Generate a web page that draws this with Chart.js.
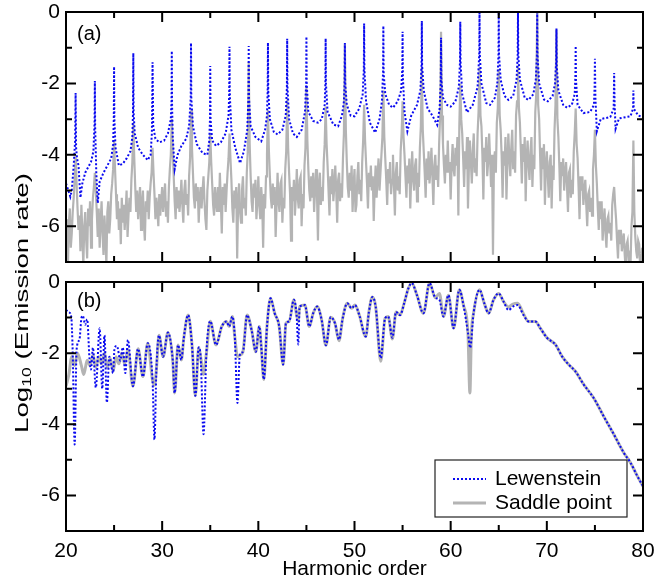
<!DOCTYPE html>
<html>
<head>
<meta charset="utf-8">
<script src="https://cdn.jsdelivr.net/npm/chart.js@4.4.1/dist/chart.umd.min.js"></script>
<style>
html,body{margin:0;padding:0;background:#fff;}
#wrap{position:relative;width:654px;height:583px;overflow:hidden;font-family:'Liberation Sans',Arial,sans-serif;}
#chartA{position:absolute;left:0;top:0;}
#chartB{position:absolute;left:0;top:270px;}
#ytitle{position:absolute;left:22px;top:303px;transform:translate(-50%,-50%) rotate(-90deg) scaleX(1.46);white-space:nowrap;font-size:19px;color:#000;line-height:24px;}
#ytitle sub{font-size:12px;vertical-align:-3px;line-height:0;}
</style>
</head>
<body>
<div id="wrap">
  <canvas id="chartA" width="654" height="270"></canvas>
  <canvas id="chartB" width="654" height="313"></canvas>
  <div id="ytitle">Log<sub>10</sub> (Emission rate)</div>
</div>
<script>
// tick labels
const xLabels = [20, 30, 40, 50, 60, 70, 80];
const yLabels = [0, -2, -4, -6];

// (a) Lewenstein, harmonic order / log10 rate
const lewAx = [
  20.0,20.25,20.45,20.6,20.8,20.95,21.0,21.05,21.15,21.3,
  21.5,21.7,22.0,22.3,22.6,22.85,22.97,23.0,23.03,23.15,
  23.3,23.5,23.9,24.3,24.7,24.9,24.97,25.0,25.03,25.15,
  25.5,25.9,26.3,26.7,26.9,26.97,27.0,27.03,27.15,27.5,
  28.0,28.5,28.8,28.93,29.0,29.07,29.3,29.7,30.2,30.6,
  30.9,30.97,31.0,31.03,31.1,31.3,31.6,32.0,32.5,32.8,
  32.97,33.0,33.03,33.2,33.6,34.2,34.7,34.9,34.97,35.0,
  35.03,35.2,35.6,36.1,36.6,36.9,36.97,37.0,37.03,37.2,
  37.6,38.1,38.5,38.85,38.97,39.0,39.03,39.2,39.7,40.3,
  40.7,40.9,40.97,41.0,41.03,41.2,41.6,42.0,42.5,42.85,
  42.97,43.0,43.03,43.2,43.6,44.0,44.5,44.85,44.97,45.0,
  45.03,45.2,45.7,46.2,46.6,46.9,46.97,47.0,47.03,47.2,
  47.8,48.3,48.7,48.9,48.97,49.0,49.03,49.2,49.6,50.0,
  50.5,50.85,50.97,51.0,51.03,51.2,51.6,52.15,52.6,52.85,
  52.97,53.0,53.03,53.2,53.6,54.0,54.5,54.85,54.97,55.0,
  55.03,55.2,55.5,55.9,56.5,56.85,56.97,57.0,57.03,57.2,
  57.6,58.1,58.6,58.85,58.97,59.0,59.03,59.2,59.6,60.0,
  60.5,60.85,60.97,61.0,61.03,61.2,61.7,62.3,62.8,62.97,
  63.0,63.03,63.2,63.7,64.1,64.6,64.85,64.97,65.0,65.03,
  65.2,65.6,66.0,66.5,66.85,66.97,67.0,67.03,67.2,67.7,
  68.1,68.6,68.85,68.97,69.0,69.03,69.2,69.7,70.1,70.6,
  70.85,70.97,71.0,71.03,71.2,71.7,72.1,72.6,72.9,72.97,
  73.0,73.03,73.2,73.8,74.5,74.9,74.97,75.0,75.05,75.2,
  75.6,76.6,76.95,77.0,77.05,77.15,77.5,78.7,78.97,79.0,
  79.03,79.5,80.0
];
const lewAy = [
  -4.8,-5.0,-5.17,-5.0,-4.3,-3.6,-2.27,-3.8,-4.1,-4.3,
  -5.2,-4.8,-4.5,-4.35,-4.2,-3.9,-3.1,-1.93,-3.2,-4.5,
  -5.35,-4.75,-4.5,-4.3,-4.1,-3.7,-3.0,-1.53,-3.0,-3.8,
  -4.3,-4.25,-4.1,-3.9,-3.5,-2.8,-1.15,-2.8,-3.4,-3.8,
  -4.0,-4.15,-4.0,-3.4,-1.41,-3.2,-3.55,-3.65,-3.6,-3.4,
  -3.0,-2.5,-1.09,-2.6,-3.5,-4.4,-4.0,-3.75,-3.55,-3.2,
  -2.4,-0.87,-2.4,-3.2,-3.7,-3.95,-4.0,-3.6,-3.0,-1.51,
  -3.0,-3.6,-3.75,-3.65,-3.4,-2.9,-2.3,-0.97,-2.3,-3.3,
  -3.8,-4.23,-3.9,-3.3,-2.4,-0.95,-2.4,-3.2,-3.5,-3.62,
  -3.3,-2.9,-2.2,-0.86,-2.2,-3.0,-3.35,-3.43,-3.3,-2.9,
  -2.1,-0.75,-2.1,-3.0,-3.4,-3.5,-3.3,-2.8,-2.0,-0.69,
  -2.0,-2.8,-3.05,-3.1,-3.0,-2.6,-2.0,-0.74,-2.0,-2.8,
  -3.15,-3.2,-2.9,-2.5,-2.0,-0.87,-2.0,-2.6,-2.9,-2.92,
  -2.7,-2.3,-1.6,-0.32,-1.6,-2.5,-3.1,-3.38,-3.0,-2.5,
  -1.7,-0.39,-1.7,-2.3,-2.6,-2.68,-2.5,-2.2,-1.6,-0.55,
  -1.8,-2.8,-3.34,-2.9,-2.6,-2.2,-1.5,-0.25,-1.5,-2.2,
  -2.7,-2.9,-3.16,-2.7,-2.0,-0.72,-1.9,-2.4,-2.6,-2.65,
  -2.5,-2.1,-1.4,-0.27,-1.4,-2.3,-2.81,-2.6,-2.1,-1.2,
  -0.02,-1.2,-2.0,-2.55,-2.6,-2.4,-2.0,-1.2,0,-1.2,
  -1.9,-2.35,-2.46,-2.35,-1.9,-1.2,0,-1.2,-1.9,-2.4,
  -2.46,-2.3,-1.9,-1.2,0,-1.2,-2.0,-2.45,-2.5,-2.35,
  -2.0,-1.4,-0.46,-1.5,-2.2,-2.6,-2.68,-2.6,-2.3,-1.8,
  -0.95,-1.9,-2.6,-2.83,-2.8,-2.6,-2.1,-1.31,-2.4,-3.34,
  -3.0,-2.94,-2.7,-1.71,-2.6,-3.27,-2.98,-2.92,-2.7,-2.2,
  -2.7,-2.9,-2.94
];

// (a) saddle point, sampled every 0.1 harmonic from 20 to 80 (one row per harmonic)
const sadAStart = 20, sadAStep = 0.1;
const sadAy = [
  -5.8,-6.5,-7.1,-5.9,-5.5,-6.6,-6.2,-5.6,-5.2,-4.7,
  -4.05,-4.8,-5.5,-6.1,-5.7,-6.7,-5.4,-6.2,-7.1,-6.0,
  -5.6,-6.4,-6.9,-5.5,-6.0,-5.3,-6.6,-5.8,-5.2,-4.9,
  -4.5,-5.0,-5.6,-6.3,-5.5,-6.6,-5.9,-5.3,-6.2,-6.8,
  -5.7,-6.3,-7.1,-5.6,-5.3,-6.2,-5.8,-5.1,-4.8,-4.4,
  -3.6,-4.4,-5.1,-5.8,-5.3,-6.1,-5.5,-6.5,-5.2,-5.9,
  -5.4,-6.1,-5.6,-5.0,-6.3,-5.7,-5.2,-5.6,-4.7,-4.2,
  -3.1,-4.1,-4.9,-5.6,-5.0,-5.8,-5.3,-4.9,-6.1,-5.4,
  -5.0,-5.9,-6.4,-5.3,-5.6,-5.0,-5.8,-5.2,-4.8,-4.5,
  -3.8,-4.5,-5.1,-5.8,-5.2,-5.5,-6.0,-5.1,-5.7,-5.3,
  -4.9,-5.6,-5.2,-4.8,-5.7,-5.3,-5.9,-4.9,-4.4,-4.0,
  -3.0,-3.9,-4.6,-5.3,-5.8,-4.9,-5.5,-5.0,-5.6,-5.2,
  -4.7,-5.4,-5.9,-5.0,-4.7,-5.4,-5.1,-5.7,-4.6,-4.1,
  -2.75,-3.8,-4.5,-5.2,-5.5,-4.8,-5.3,-4.9,-5.9,-5.2,
  -4.9,-5.5,-5.0,-4.6,-5.3,-5.8,-6.1,-5.0,-4.6,-4.2,
  -3.4,-4.2,-4.8,-5.4,-5.7,-4.9,-5.3,-5.6,-4.9,-5.6,
  -4.5,-5.3,-6.2,-4.9,-5.4,-4.8,-5.6,-5.0,-4.5,-4.1,
  -3.4,-4.1,-4.7,-5.5,-5.9,-5.0,-5.5,-4.9,-6.9,-5.3,
  -4.8,-5.6,-5.9,-5.0,-4.6,-5.5,-5.2,-5.7,-4.5,-3.9,
  -1.4,-3.7,-4.6,-5.3,-5.6,-4.8,-5.2,-4.7,-5.8,-5.3,
  -4.6,-5.4,-5.8,-4.9,-5.3,-6.6,-5.1,-5.5,-4.6,-4.0,
  -2.75,-3.9,-4.6,-5.2,-5.5,-4.8,-5.4,-4.9,-6.3,-5.4,
  -4.5,-5.3,-5.6,-4.8,-4.7,-5.9,-5.2,-5.5,-4.4,-3.9,
  -2.45,-3.8,-4.5,-5.1,-6.4,-4.9,-5.3,-4.7,-5.7,-5.2,
  -4.4,-5.2,-5.5,-4.7,-4.6,-6.0,-5.1,-5.5,-4.3,-3.8,
  -2.1,-3.6,-4.4,-5.0,-5.3,-4.6,-5.2,-4.5,-5.6,-5.0,
  -4.4,-5.1,-6.4,-4.8,-4.5,-5.4,-4.9,-5.3,-4.2,-3.7,
  -2.65,-3.7,-4.3,-5.0,-5.7,-4.6,-5.1,-4.4,-5.3,-4.9,
  -4.3,-5.0,-5.9,-4.7,-4.5,-5.3,-4.8,-5.2,-4.1,-3.4,
  -0.9,-3.3,-4.2,-4.9,-5.2,-4.5,-5.0,-4.3,-5.6,-4.9,
  -4.4,-5.6,-5.4,-4.6,-4.2,-5.1,-4.7,-5.3,-4.2,-3.6,
  -2.6,-3.6,-4.2,-4.8,-5.5,-4.5,-4.9,-4.3,-5.0,-4.6,
  -5.85,-4.9,-4.3,-5.2,-4.6,-4.1,-5.0,-4.5,-4.0,-3.5,
  -2.2,-3.5,-4.1,-4.7,-5.4,-4.4,-4.8,-4.2,-5.1,-4.7,
  -4.0,-4.8,-5.7,-4.5,-4.2,-5.0,-4.6,-5.1,-3.9,-3.4,
  -2.5,-3.5,-4.0,-4.6,-5.2,-4.3,-4.8,-4.1,-5.5,-4.6,
  -3.9,-4.7,-5.0,-4.3,-4.1,-5.3,-4.5,-4.9,-3.8,-3.2,
  -1.55,-3.3,-3.9,-4.5,-5.2,-4.1,-4.7,-3.9,-4.8,-4.4,
  -3.8,-4.6,-5.4,-4.3,-4.0,-4.7,-4.3,-4.9,-3.7,-2.9,
  -0.55,-2.9,-3.7,-4.3,-4.8,-4.0,-4.5,-3.6,-4.5,-4.2,
  -5.25,-4.3,-3.7,-4.4,-4.6,-3.8,-4.3,-3.5,-5.7,-3.2,
  -2.0,-3.0,-3.4,-4.1,-4.9,-3.9,-4.4,-3.5,-5.5,-4.3,
  -3.6,-4.2,-4.8,-3.9,-3.4,-4.5,-4.1,-4.6,-3.4,-2.8,
  -1.55,-2.9,-3.2,-4.0,-5.25,-3.8,-4.2,-3.5,-4.6,-4.2,
  -3.4,-4.1,-4.9,-4.0,-6.8,-4.2,-3.9,-4.5,-3.1,-2.7,
  -1.6,-2.9,-3.3,-4.0,-5.2,-3.9,-4.3,-3.5,-5.25,-4.2,
  -3.4,-4.1,-4.6,-3.8,-3.3,-4.4,-3.9,-4.5,-2.9,-2.5,
  -1.5,-2.7,-3.1,-3.9,-4.8,-3.7,-4.2,-3.5,-5.3,-4.1,
  -3.6,-4.3,-4.7,-3.9,-3.5,-4.9,-4.0,-4.4,-2.8,-2.3,
  0.0,-2.6,-3.0,-4.0,-5.0,-3.8,-4.4,-3.7,-5.4,-4.3,
  -3.9,-4.6,-5.2,-4.2,-4.0,-5.5,-4.3,-4.7,-3.3,-2.6,
  -0.5,-3.0,-3.5,-4.3,-5.3,-4.2,-4.6,-4.1,-5.0,-4.5,
  -4.2,-4.9,-5.6,-4.5,-4.4,-5.2,-4.7,-5.1,-3.9,-3.4,
  -2.7,-3.7,-4.1,-4.9,-5.8,-4.6,-5.0,-4.6,-5.4,-5.0,
  -4.7,-5.4,-6.0,-5.1,-5.0,-5.6,-5.2,-5.7,-4.4,-4.0,
  -3.3,-4.3,-4.8,-5.5,-6.1,-5.3,-5.8,-5.3,-6.4,-5.9,
  -5.5,-6.2,-6.6,-5.8,-5.7,-6.2,-5.9,-6.4,-5.4,-5.1,
  -4.9,-5.4,-5.8,-6.4,-6.9,-6.1,-6.5,-6.1,-6.7,-6.4,
  -6.2,-6.8,-7.2,-6.5,-6.4,-6.9,-6.8,-7.1,-6.0,-5.6,
  -3.6,-5.6,-6.3,-6.7,-6.9,-6.4,-6.5,-7.1,-7.2,-6.6,
  -6.8
];

// (b) Lewenstein
const lewBx = [
  20.0,20.3,20.54,20.7,20.9,21.1,21.4,21.6,21.75,22.0,
  22.2,22.45,22.6,22.8,23.1,23.5,23.77,24.0,24.25,24.5,
  24.9,25.05,25.3,25.65,25.9,26.17,26.44,26.96,27.5,28.0,
  28.5,29.0,29.2,29.4,29.67,30.1,30.6,31.1,31.3,31.65,
  32.0,32.24,32.7,33.1,33.45,33.8,34.0,34.3,34.6,35.0,
  35.6,36.2,36.7,36.96,37.3,37.55,37.83,38.07,38.4,38.83,
  39.3,39.74,40.1,40.3,40.57,40.9,41.27,41.7,42.17,42.58,
  42.87,43.2,43.7,43.98,44.15,44.3,44.84,45.3,45.7,46.12,
  46.58,47.03,47.52,47.97,48.39,48.77,49.25,49.7,50.05,50.5,
  51.17,51.5,51.86,52.2,52.73,53.18,53.5,53.94,54.32,54.74,
  55.16,55.6,55.96,56.48,57.17,57.8,58.4,58.83,59.25,59.77,
  60.3,60.9,61.33,61.8,62.03,62.38,63.0,63.5,63.94,64.46,
  64.98,65.5,66.02,66.48,66.96,67.58,68.1,68.8,69.32,70.02,
  70.9,71.58,72.27,72.97,73.83,74.87,75.9,76.96,78.0,78.7,
  79.4,80.0
];
const lewBy = [
  -0.78,-0.85,-0.97,-2.0,-4.57,-1.9,-1.62,-1.02,-0.95,-1.2,
  -1.05,-2.18,-2.46,-1.85,-2.97,-1.3,-3.0,-1.5,-3.39,-2.1,
  -2.56,-1.85,-1.8,-2.21,-1.84,-2.56,-1.63,-2.93,-1.88,-2.66,
  -1.72,-2.77,-4.43,-2.46,-1.5,-2.1,-1.42,-2.2,-3.12,-1.77,
  -2.19,-1.6,-0.93,-1.77,-3.2,-1.84,-2.1,-4.28,-2.0,-1.1,
  -1.77,-1.25,-1.11,-1.25,-0.97,-1.53,-3.4,-2.06,-1.96,-0.93,
  -1.35,-1.96,-1.25,-1.8,-2.74,-1.25,-0.46,-0.88,-1.25,-2.32,
  -1.16,-1.11,-0.5,-0.93,-1.76,-0.69,-0.65,-1.25,-0.88,-0.69,
  -1.06,-1.78,-0.99,-1.16,-1.62,-1.02,-0.6,-0.74,-0.65,-0.93,
  -1.53,-0.84,-0.42,-0.69,-2.14,-1.02,-0.97,-1.57,-0.84,-0.93,
  -0.6,-0.18,-0.03,-0.36,-0.88,-0.03,-0.44,-0.5,-0.97,-0.37,
  -1.3,-0.22,-0.65,-1.43,-1.85,-0.88,-0.22,-0.6,-0.88,-0.5,
  -0.32,-0.55,-0.79,-0.69,-0.65,-0.93,-1.11,-1.11,-1.3,-1.57,
  -1.76,-2.09,-2.32,-2.51,-2.88,-3.26,-3.77,-4.28,-4.8,-5.08,
  -5.45,-5.74
];

// (b) saddle point
const sadBx = [
  20.0,20.3,20.6,20.9,21.2,21.6,21.85,22.2,22.5,22.8,
  23.1,23.4,23.7,24.0,24.3,24.6,24.9,25.2,25.5,25.8,
  26.1,26.44,26.96,27.5,28.0,28.5,29.0,29.2,29.4,29.67,
  30.1,30.6,31.1,31.3,31.65,32.0,32.24,32.7,33.1,33.45,
  33.8,34.0,34.3,34.6,35.0,35.6,36.2,36.7,36.96,37.3,
  37.55,37.83,38.07,38.4,38.83,39.3,39.74,40.1,40.3,40.57,
  40.9,41.27,41.7,42.17,42.58,42.87,43.2,43.7,43.98,44.15,
  44.3,44.84,45.3,45.7,46.12,46.58,47.03,47.52,47.97,48.39,
  48.77,49.25,49.7,50.05,50.5,51.17,51.5,51.86,52.2,52.73,
  53.18,53.5,53.94,54.32,54.74,55.16,55.6,55.96,56.48,57.17,
  57.8,58.4,58.83,59.25,59.77,60.3,60.9,61.33,61.8,62.0,
  62.15,62.38,63.0,63.5,63.94,64.46,64.98,65.5,66.02,66.48,
  66.96,67.58,68.1,68.8,69.32,70.02,70.9,71.58,72.27,72.97,
  73.83,74.87,75.9,76.96,78.0,78.7,79.4,80.0
];
const sadBy = [
  -2.93,-2.6,-2.1,-2.35,-2.0,-2.35,-2.6,-2.2,-2.35,-2.05,
  -2.4,-2.1,-2.3,-2.0,-2.4,-2.15,-2.5,-2.1,-2.3,-2.0,
  -2.3,-1.9,-2.93,-1.88,-2.66,-1.72,-2.77,-2.9,-2.46,-1.5,
  -2.1,-1.42,-2.2,-3.12,-1.77,-2.19,-1.6,-0.93,-1.77,-3.2,
  -1.84,-2.1,-2.6,-2.0,-1.1,-1.77,-1.25,-1.11,-1.25,-0.97,
  -1.53,-2.1,-2.06,-1.96,-0.93,-1.35,-1.96,-1.25,-1.8,-2.74,
  -1.25,-0.46,-0.88,-1.25,-2.32,-1.16,-1.11,-0.5,-0.93,-1.1,
  -0.69,-0.65,-1.25,-0.88,-0.69,-1.06,-1.78,-0.99,-1.16,-1.65,
  -1.02,-0.6,-0.74,-0.65,-0.93,-1.53,-0.84,-0.42,-0.69,-2.23,
  -1.02,-0.97,-1.6,-0.84,-0.93,-0.6,-0.18,-0.03,-0.36,-0.88,
  -0.03,-0.44,-0.32,-0.97,-0.37,-1.3,-0.22,-0.65,-1.45,-3.12,
  -1.5,-0.88,-0.22,-0.6,-0.88,-0.5,-0.32,-0.55,-0.7,-0.62,
  -0.6,-0.9,-1.11,-1.11,-1.3,-1.57,-1.76,-2.09,-2.32,-2.51,
  -2.88,-3.26,-3.77,-4.28,-4.8,-5.08,-5.45,-5.74
];

const FONT = "'Liberation Sans', Arial, sans-serif";
Chart.defaults.font.family = FONT;
Chart.defaults.color = '#000';

const BLUE = '#0a0af0';
const GRAY = '#b4b4b4';

const pts = (xs, ys) => ys.map((y, i) => ({x: xs[i], y}));
const sadA = sadAy.map((y, i) => ({x: sadAStart + i * sadAStep, y}));

// frame, inward ticks, panel label, legend
const frame = {
  id: 'frame',
  afterDatasetsDraw(chart, args, o) {
    const {ctx, chartArea: a, scales: {x, y}} = chart;
    ctx.save();
    ctx.strokeStyle = '#000';
    ctx.lineWidth = 2;
    ctx.beginPath();
    for (let v = x.min; v <= x.max; v += 5) {
      const p = x.getPixelForValue(v);
      const len = v % 10 === 0 ? 10 : 6;
      ctx.moveTo(p, a.bottom); ctx.lineTo(p, a.bottom - len);
      ctx.moveTo(p, a.top); ctx.lineTo(p, a.top + len);
    }
    for (let v = y.min; v <= y.max; v += 1) {
      const p = y.getPixelForValue(v);
      const len = v % 2 === 0 ? 10 : 6;
      ctx.moveTo(a.left, p); ctx.lineTo(a.left + len, p);
      ctx.moveTo(a.right, p); ctx.lineTo(a.right - len, p);
    }
    ctx.stroke();
    ctx.strokeRect(a.left, a.top, a.width, a.height);

    ctx.fillStyle = '#000';
    ctx.font = '20px ' + FONT;
    ctx.textBaseline = 'alphabetic';
    ctx.fillText(o.label, a.left + 11, a.top + o.labelDy);

    if (o.legend) {
      const ds = chart.data.datasets;
      const lx = a.right - 208, ly = a.bottom - 71;
      ctx.fillStyle = '#fff';
      ctx.fillRect(lx, ly, 192, 57);
      ctx.lineWidth = 1.2;
      ctx.strokeStyle = '#222';
      ctx.strokeRect(lx, ly, 192, 57);
      ds.forEach((d, i) => {
        const yy = ly + 19 + i * 24;
        ctx.beginPath();
        ctx.strokeStyle = d.borderColor;
        ctx.lineWidth = d.borderWidth;
        ctx.setLineDash(d.borderDash || []);
        ctx.moveTo(lx + 18, yy); ctx.lineTo(lx + 51, yy);
        ctx.stroke();
        ctx.setLineDash([]);
        ctx.fillStyle = '#000';
        ctx.font = '21px ' + FONT;
        ctx.fillText(d.label, lx + 60, yy + 6);
      });
    }
    ctx.restore();
  }
};

function makeChart(id, lew, sad, showX, label, labelDy, smooth) {
  const xHeight = showX ? 52 : 8;
  return new Chart(document.getElementById(id), {
    type: 'line',
    data: {
      datasets: [
        {label: 'Lewenstein', data: lew, borderColor: BLUE, borderWidth: 2, borderDash: [2, 2],
         pointRadius: 0, tension: 0, cubicInterpolationMode: smooth ? 'monotone' : 'default'},
        {label: 'Saddle point', data: sad, borderColor: GRAY, borderWidth: smooth ? 3 : 2.2,
         pointRadius: 0, tension: 0, cubicInterpolationMode: smooth ? 'monotone' : 'default'}
      ]
    },
    options: {
      responsive: false,
      animation: false,
      events: [],
      layout: {padding: {top: 12, right: 11, left: 0, bottom: 0}},
      plugins: {
        legend: {display: false},
        tooltip: {enabled: false},
        frame: {label: label, labelDy: labelDy, legend: showX}
      },
      scales: {
        x: {
          type: 'linear', min: 20, max: 80,
          grid: {display: false, drawTicks: false},
          border: {display: false},
          ticks: {display: showX, stepSize: 5, autoSkip: false, maxRotation: 0, padding: 8,
                  font: {size: 21}, callback: v => xLabels.includes(v) ? String(v) : ''},
          title: {display: showX, text: 'Harmonic order', font: {size: 21}, padding: {top: 0, bottom: 1}},
          afterFit: s => { s.height = xHeight; s.paddingLeft = 0; s.paddingRight = 0; }
        },
        y: {
          min: -7, max: 0,
          grid: {display: false, drawTicks: false},
          border: {display: false},
          ticks: {stepSize: 1, autoSkip: false, padding: 6, font: {size: 21},
                  callback: v => yLabels.includes(v) ? String(v) : ''},
          afterFit: s => { s.width = 66; s.paddingTop = 0; s.paddingBottom = 0; }
        }
      }
    },
    plugins: [frame]
  });
}

makeChart('chartA', pts(lewAx, lewAy), sadA, false, '(a)', 28, false);
makeChart('chartB', pts(lewBx, lewBy), pts(sadBx, sadBy), true, '(b)', 25, true);
</script>
</body>
</html>
